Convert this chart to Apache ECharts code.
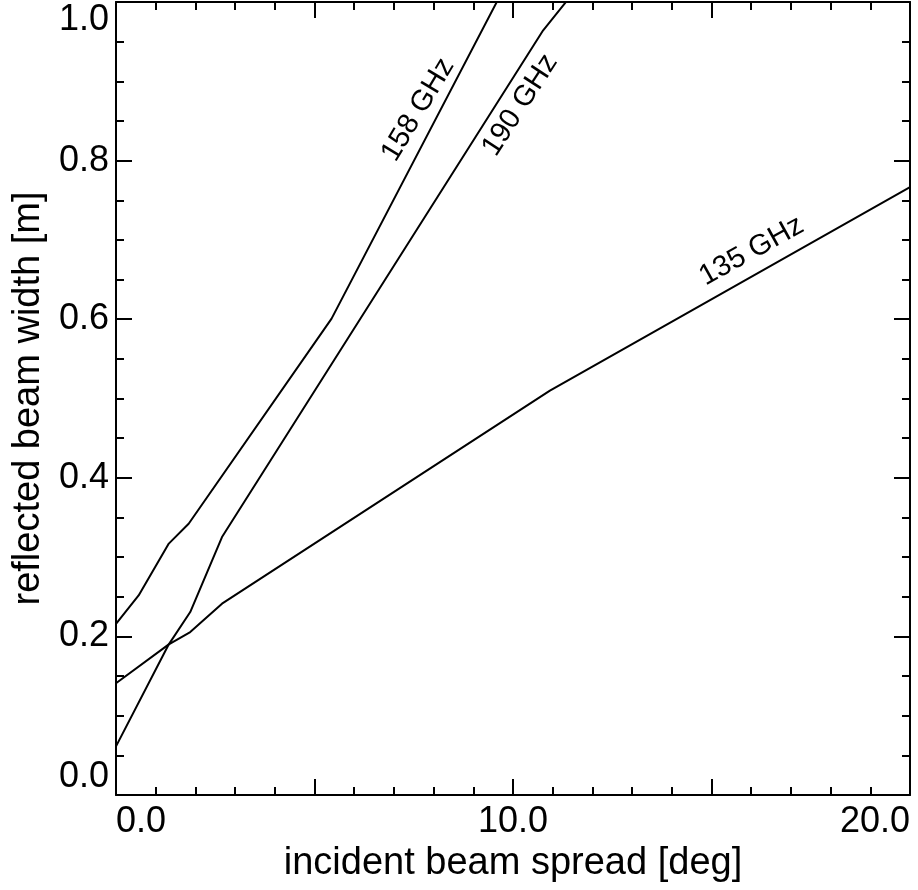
<!DOCTYPE html>
<html>
<head>
<meta charset="utf-8">
<title>Reflected beam width</title>
<script src="https://cdn.jsdelivr.net/npm/echarts@6/dist/echarts.min.js"></script>
<style>
  html, body { margin: 0; padding: 0; background: #fff; }
  #chart { width: 918px; height: 890px; }
</style>
</head>
<body>
<div id="chart"></div>
<script>
// Incident beam spread [deg] and reflected beam width [m] per frequency
const x135 = [0, 1.33, 1.87, 2.67, 10.93, 20];
const y135 = [0.141, 0.190, 0.2055, 0.2413, 0.510, 0.7667];

const x158 = [0, 0.57, 1.33, 1.83, 5.43, 10.8];
const y158 = [0.2158, 0.2517, 0.317, 0.342, 0.6007, 1.116];

const x190 = [0, 1.33, 1.87, 2.67, 10.76, 20];
const y190 = [0.0613, 0.190, 0.2307, 0.3253, 0.9643, 1.54];

// Curve labels: text, anchor [deg, m], rotation
const curveLabels = ['135 GHz', '158 GHz', '190 GHz'];
const labelAnchors = [[16.01, 0.686], [7.61, 0.864], [10.18, 0.870]];
const labelAngles = [29, 59, 57];

// Axis tick labels
const xTickLabels = ['0.0', '10.0', '20.0'];
const yTickLabels = ['0.0', '0.2', '0.4', '0.6', '0.8', '1.0'];

const FONT = '"Liberation Sans", Arial, Helvetica, sans-serif';

function pairs(xs, ys) { return xs.map((x, i) => [x, ys[i]]); }

function lineSeries(xs, ys) {
  return {
    type: 'line',
    data: pairs(xs, ys),
    showSymbol: false,
    symbol: 'none',
    clip: true,
    lineStyle: { color: '#000', width: 2 },
    silent: true
  };
}

const tickStyle = { color: '#000', width: 2 };

function xAxisDef(position, withLabels) {
  return {
    type: 'value',
    position: position,
    min: 0, max: 20, interval: 5,
    name: withLabels ? 'incident beam spread [deg]' : '',
    nameLocation: 'middle',
    nameGap: 42,
    nameTextStyle: { fontSize: 38, color: '#000', fontFamily: FONT },
    axisLine: { show: true, onZero: false, lineStyle: tickStyle },
    axisTick: { show: true, inside: true, length: 16, lineStyle: tickStyle },
    minorTick: { show: true, splitNumber: 5, length: 8, lineStyle: tickStyle },
    splitLine: { show: false },
    axisLabel: {
      show: withLabels,
      fontSize: 36, color: '#000', fontFamily: FONT, margin: 9,
      alignMinLabel: 'left', alignMaxLabel: 'right',
      formatter: function (v) {
        const idx = xTickLabels.indexOf(v.toFixed(1));
        return idx >= 0 ? xTickLabels[idx] : '';
      }
    }
  };
}

function yAxisDef(position, withLabels) {
  return {
    type: 'value',
    position: position,
    min: 0, max: 1, interval: 0.2,
    name: withLabels ? 'reflected beam width [m]' : '',
    nameLocation: 'middle',
    nameGap: 68,
    nameRotate: 90,
    nameTextStyle: { fontSize: 38, color: '#000', fontFamily: FONT },
    axisLine: { show: true, onZero: false, lineStyle: tickStyle },
    axisTick: { show: true, inside: true, length: 16, lineStyle: tickStyle },
    minorTick: { show: true, splitNumber: 4, length: 8, lineStyle: tickStyle },
    splitLine: { show: false },
    axisLabel: {
      show: withLabels,
      fontSize: 36, color: '#000', fontFamily: FONT, margin: 7,
      verticalAlignMinLabel: 'bottom', verticalAlignMaxLabel: 'top',
      formatter: function (v) {
        const idx = yTickLabels.indexOf(v.toFixed(1));
        return idx >= 0 ? yTickLabels[idx] : '';
      }
    }
  };
}

// Rotated frequency labels placed along the curves
const labelSeries = {
  type: 'scatter',
  symbolSize: 0,
  silent: true,
  clip: false,
  itemStyle: { color: '#000', opacity: 0 },
  data: curveLabels.map((t, i) => ({
    value: labelAnchors[i],
    label: {
      show: true,
      formatter: t,
      position: 'inside',
      rotate: labelAngles[i],
      align: 'center',
      verticalAlign: 'middle',
      fontSize: 29,
      color: '#000',
      opacity: 1,
      textBorderWidth: 0,
      textBorderColor: 'transparent',
      fontFamily: FONT
    }
  }))
};

const chart = echarts.init(document.getElementById('chart'), null, { renderer: 'canvas' });
chart.setOption({
  animation: false,
  backgroundColor: '#fff',
  grid: { left: 116, right: 8, top: 2, bottom: 95, containLabel: false },
  xAxis: [xAxisDef('bottom', true), xAxisDef('top', false)],
  yAxis: [yAxisDef('left', true), yAxisDef('right', false)],
  series: [
    lineSeries(x135, y135),
    lineSeries(x158, y158),
    lineSeries(x190, y190),
    labelSeries
  ]
});
</script>
</body>
</html>
